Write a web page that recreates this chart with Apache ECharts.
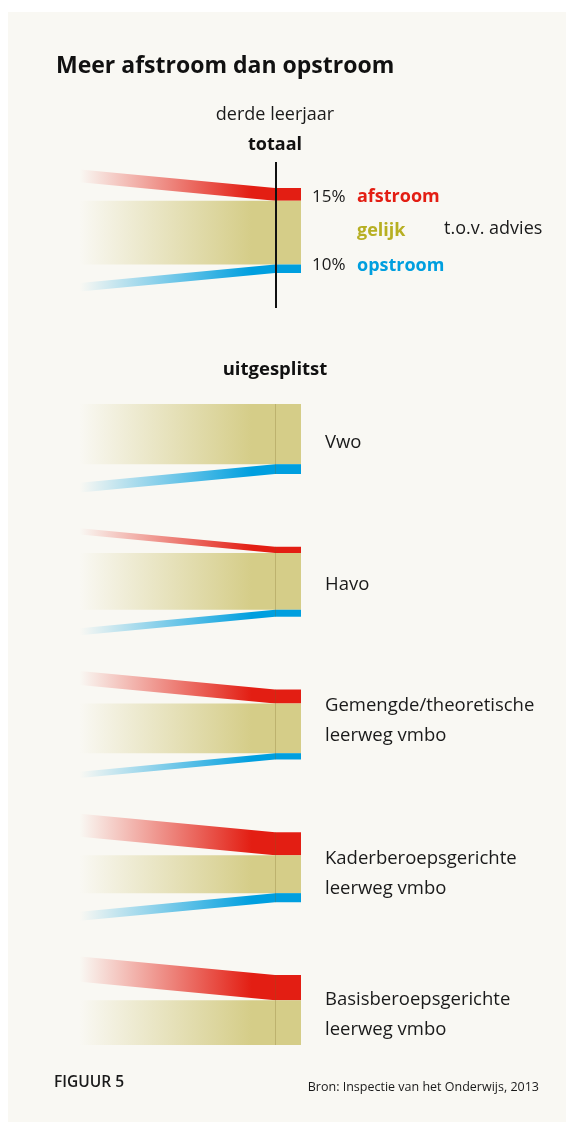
<!DOCTYPE html>
<html>
<head>
<meta charset="utf-8">
<script src="https://cdn.jsdelivr.net/npm/echarts@6/dist/echarts.min.js"></script>
<style>
  html, body { margin: 0; padding: 0; background: #fff; }
  #chart { width: 574px; height: 1122px; }
</style>
</head>
<body>
<div id="chart"></div>
<script>
  // totaal: afstroom / gelijk / opstroom (% t.o.v. advies)
  var totaalValues = [15, 75, 10]
  var flowNames = ['afstroom', 'gelijk', 'opstroom']

  // uitgesplitst per schoolsoort
  var groups = ['Vwo', 'Havo', 'Gemengde/theoretische\nleerweg vmbo', 'Kaderberoepsgerichte\nleerweg vmbo', 'Basisberoepsgerichte\nleerweg vmbo']
  var afstroom = [0, 9, 20, 33, 36]
  var gelijk = [86, 81, 71, 54, 64]
  var opstroom = [14, 10, 9, 13, 0]

  var RED = '#e31e13'
  var KHAKI = '#d5cd88'
  var BLUE = '#009fdf'
  var FONT = '"Open Sans", sans-serif'
  var STEP = 204   // afstand tussen de groepen, in %-eenheden
  var BAR_W = 26
  var SLANT = 18.5
  var labelNudge = [0, -1, -8, 2, 1]  // kleine verschuiving van de labels (px)

  function fade(rgb) {
    return new echarts.graphic.LinearGradient(0, 0, 1, 0, [
      { offset: 0, color: 'rgba(' + rgb + ',0)' },
      { offset: 0.88, color: 'rgba(' + rgb + ',1)' },
      { offset: 1, color: 'rgba(' + rgb + ',1)' }
    ])
  }

  function makeRender(isTotaal) {
    return function (params, api) {
      var i = api.value(0)
      var a = api.value(1), g = api.value(2), o = api.value(3)
      var base = isTotaal ? 0 : i * STEP
      var p0 = api.coord([0, base])
      var p1 = api.coord([1, base])
      var left = p0[0], right = p1[0]
      var y0 = p1[1]
      var y1 = api.coord([1, base + a])[1]
      var y2 = api.coord([1, base + a + g])[1]
      var y3 = api.coord([1, base + a + g + o])[1]
      var kids = []
      if (a > 0) {
        kids.push({
          type: 'polygon',
          shape: { points: [[left, y0 - SLANT], [right, y0], [right, y1], [left, y1 - SLANT]] },
          style: { fill: fade('227,30,19') }
        })
      }
      kids.push({
        type: 'rect',
        shape: { x: left, y: y1, width: right - left, height: y2 - y1 },
        style: { fill: fade('213,205,136') }
      })
      if (o > 0) {
        kids.push({
          type: 'polygon',
          shape: { points: [[left, y2 + SLANT], [right, y2], [right, y3], [left, y3 + SLANT]] },
          style: { fill: fade('0,159,223') }
        })
      }
      // staaf rechts
      kids.push({ type: 'rect', shape: { x: right, y: y0, width: BAR_W, height: y1 - y0 }, style: { fill: RED } })
      kids.push({ type: 'rect', shape: { x: right, y: y1, width: BAR_W, height: y2 - y1 }, style: { fill: KHAKI } })
      kids.push({ type: 'rect', shape: { x: right, y: y2, width: BAR_W, height: y3 - y2 }, style: { fill: BLUE } })

      if (isTotaal) {
        kids.push({
          type: 'line',
          shape: { x1: right + 1, y1: y0 - 26, x2: right + 1, y2: y3 + 35 },
          style: { stroke: '#111', lineWidth: 2 }
        })
        var tx = right + BAR_W + 11
        kids.push({ type: 'text', style: { x: tx, y: (y0 + y1) / 2 + 3, text: a + '%', font: '17px ' + FONT, fill: '#1a1a1a', verticalAlign: 'middle' } })
        kids.push({ type: 'text', style: { x: tx, y: (y2 + y3) / 2 - 4, text: o + '%', font: '17px ' + FONT, fill: '#1a1a1a', verticalAlign: 'middle' } })
        kids.push({ type: 'text', style: { x: tx + 45, y: (y0 + y1) / 2 + 2, text: flowNames[0], font: 'bold 18px ' + FONT, fill: RED, verticalAlign: 'middle' } })
        kids.push({ type: 'text', style: { x: tx + 45, y: (y1 + y2) / 2 - 2, text: flowNames[1], font: 'bold 18px ' + FONT, fill: '#b7af22', verticalAlign: 'middle' } })
        kids.push({ type: 'text', style: { x: tx + 45, y: (y2 + y3) / 2 - 3, text: flowNames[2], font: 'bold 18px ' + FONT, fill: BLUE, verticalAlign: 'middle' } })
      } else {
        // dunne scheidingslijn tussen stroom en staaf
        kids.push({
          type: 'line',
          shape: { x1: right + 0.5, y1: y0, x2: right + 0.5, y2: y3 },
          style: { stroke: 'rgba(120,100,30,0.25)', lineWidth: 1 }
        })
        kids.push({
          type: 'text',
          style: {
            x: right + BAR_W + 24, y: (y0 + y3) / 2 + 4 + labelNudge[i],
            text: groups[i], font: '18.5px ' + FONT, fill: '#1a1a1a',
            verticalAlign: 'middle', lineHeight: 30
          }
        })
      }
      return { type: 'group', children: kids }
    }
  }

  var myChart = echarts.init(document.getElementById('chart'))
  var option = {
    backgroundColor: '#fff',
    animation: false,
    title: {
      text: 'Meer afstroom dan opstroom',
      left: 51,
      top: 50,
      textStyle: { fontSize: 23, fontWeight: 'bold', color: '#111', fontFamily: FONT }
    },
    grid: [
      { left: 80, right: 299, top: 188, height: 85 },
      { left: 80, right: 299, top: 404, height: 641 }
    ],
    xAxis: [
      { type: 'value', gridIndex: 0, min: 0, max: 1, show: false },
      { type: 'value', gridIndex: 1, min: 0, max: 1, show: false }
    ],
    yAxis: [
      { type: 'value', gridIndex: 0, min: 0, max: 100, inverse: true, show: false },
      { type: 'value', gridIndex: 1, min: 0, max: (groups.length - 1) * STEP + 100, inverse: true, show: false }
    ],
    graphic: [
      { type: 'rect', z: -10, shape: { x: 8, y: 12, width: 558, height: 1110 }, style: { fill: '#f9f8f3' } },
      { type: 'text', style: { x: 275, y: 115, text: 'derde leerjaar', font: '18px ' + FONT, fill: '#1a1a1a', align: 'center', verticalAlign: 'middle' } },
      { type: 'text', style: { x: 275, y: 145, text: 'totaal', font: 'bold 18px ' + FONT, fill: '#111', align: 'center', verticalAlign: 'middle' } },
      { type: 'text', style: { x: 444, y: 229, text: 't.o.v. advies', font: '18px ' + FONT, fill: '#1a1a1a', verticalAlign: 'middle' } },
      { type: 'text', style: { x: 275, y: 370, text: 'uitgesplitst', font: 'bold 18.5px ' + FONT, fill: '#111', align: 'center', verticalAlign: 'middle' } },
      { type: 'text', style: { x: 54, y: 1083, text: 'FIGUUR 5', font: '600 15.5px ' + FONT, fill: '#1a1a1a', verticalAlign: 'middle' } },
      { type: 'text', style: { x: 539, y: 1087, text: 'Bron: Inspectie van het Onderwijs, 2013', font: '12.5px ' + FONT, fill: '#1a1a1a', align: 'right', verticalAlign: 'middle' } }
    ],
    series: [
      {
        type: 'custom',
        xAxisIndex: 0,
        yAxisIndex: 0,
        renderItem: makeRender(true),
        data: [[0, totaalValues[0], totaalValues[1], totaalValues[2]]]
      },
      {
        type: 'custom',
        xAxisIndex: 1,
        yAxisIndex: 1,
        renderItem: makeRender(false),
        data: groups.map(function (g, i) { return [i, afstroom[i], gelijk[i], opstroom[i]] })
      }
    ]
  }
  option && myChart.setOption(option)
  window.addEventListener('resize', myChart.resize)
</script>
</body>
</html>
